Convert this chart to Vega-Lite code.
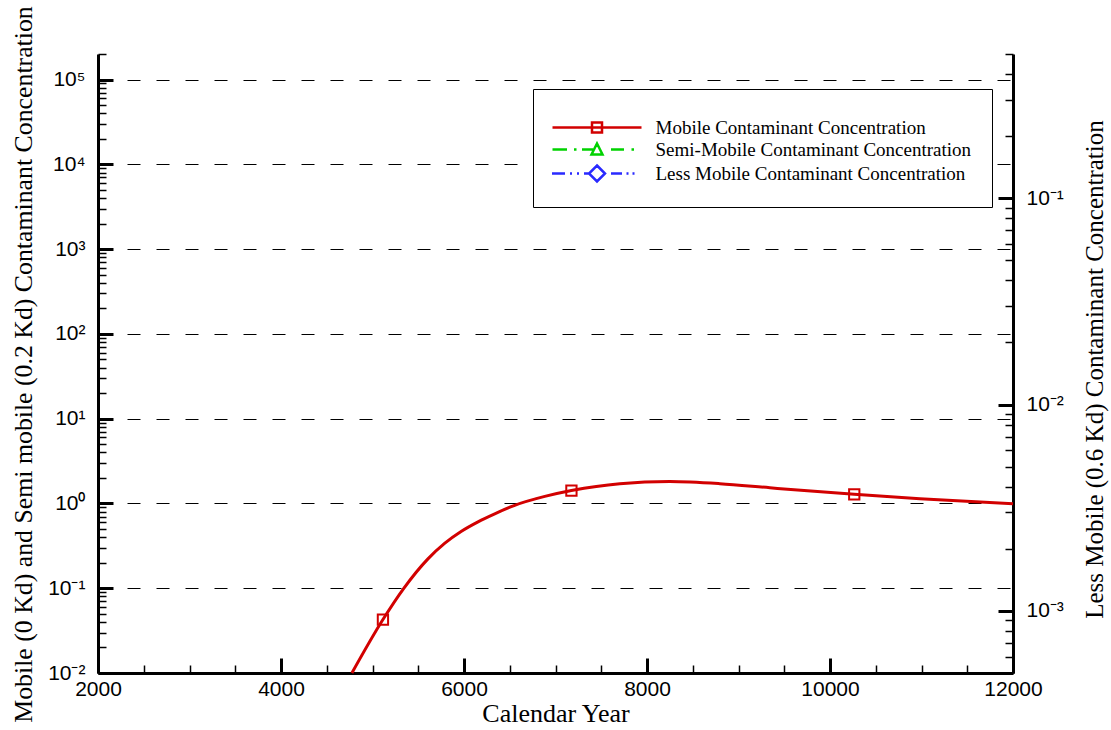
{
  "$schema": "https://vega.github.io/schema/vega-lite/v6.json",
  "width": 915,
  "height": 619,
  "autosize": "none",
  "padding": {"left": 98, "top": 54, "right": 98, "bottom": 57},
  "background": "white",
  "config": {
    "view": {"stroke": null},
    "axis": {
      "domainColor": "#000",
      "domainWidth": 3,
      "tickColor": "#000",
      "labelColor": "#000",
      "titleColor": "#000",
      "labelFont": "Liberation Sans",
      "labelFontSize": 21,
      "titleFont": "Liberation Serif",
      "titleFontSize": 25,
      "titleFontWeight": "normal",
      "labelOverlap": false,
      "labelBound": false,
      "labelFlush": false
    }
  },
  "datasets": {
    "mobile": [
      {"year": 4775, "conc": 0.0100, "series": "Mobile Contaminant Concentration"},
      {"year": 5114, "conc": 0.0427, "series": "Mobile Contaminant Concentration"},
      {"year": 5340, "conc": 0.099, "series": "Mobile Contaminant Concentration"},
      {"year": 5606, "conc": 0.222, "series": "Mobile Contaminant Concentration"},
      {"year": 5791, "conc": 0.340, "series": "Mobile Contaminant Concentration"},
      {"year": 5972, "conc": 0.47, "series": "Mobile Contaminant Concentration"},
      {"year": 6153, "conc": 0.607, "series": "Mobile Contaminant Concentration"},
      {"year": 6336, "conc": 0.755, "series": "Mobile Contaminant Concentration"},
      {"year": 6554, "conc": 0.95, "series": "Mobile Contaminant Concentration"},
      {"year": 6883, "conc": 1.21, "series": "Mobile Contaminant Concentration"},
      {"year": 7174, "conc": 1.42, "series": "Mobile Contaminant Concentration"},
      {"year": 7703, "conc": 1.71, "series": "Mobile Contaminant Concentration"},
      {"year": 8249, "conc": 1.81, "series": "Mobile Contaminant Concentration"},
      {"year": 8796, "conc": 1.71, "series": "Mobile Contaminant Concentration"},
      {"year": 9343, "conc": 1.53, "series": "Mobile Contaminant Concentration"},
      {"year": 10265, "conc": 1.28, "series": "Mobile Contaminant Concentration"},
      {"year": 10983, "conc": 1.135, "series": "Mobile Contaminant Concentration"},
      {"year": 12000, "conc": 0.99, "series": "Mobile Contaminant Concentration"}
    ],
    "markers": [
      {"year": 5114, "conc": 0.0427, "series": "Mobile Contaminant Concentration"},
      {"year": 7174, "conc": 1.42, "series": "Mobile Contaminant Concentration"},
      {"year": 10265, "conc": 1.28, "series": "Mobile Contaminant Concentration"}
    ]
  },
  "encoding": {
    "x": {
      "field": "year",
      "type": "quantitative",
      "scale": {"domain": [2000, 12000], "nice": false, "zero": false},
      "axis": {
        "title": "Calendar Year",
        "titleFontSize": 26,
        "titleY": 48,
        "titleBaseline": "alphabetic",
        "format": "d",
        "values": [2000, 2500, 3000, 3500, 4000, 4500, 5000, 5500, 6000, 6500, 7000, 7500, 8000, 8500, 9000, 9500, 10000, 10500, 11000, 11500, 12000],
        "labelExpr": "datum.value % 2000 == 0 ? datum.label : ''",
        "tickSize": {"condition": {"test": "datum.value % 2000 == 0", "value": -15}, "value": -8},
        "tickWidth": {"condition": {"test": "datum.value % 2000 == 0", "value": 3}, "value": 1.5},
        "labelPadding": 20,
        "grid": false
      }
    }
  },
  "layer": [
    {
      "encoding": {
        "y": {
          "field": "conc",
          "type": "quantitative",
          "scale": {"type": "log", "domain": [0.01, 200000], "nice": false},
          "axis": {
            "orient": "left",
            "title": "Mobile (0 Kd) and Semi mobile (0.2 Kd) Contaminant Concentration",
            "titleFontSize": 25.8,
            "titleAngle": 270,
            "titleX": -67,
            "titleY": 310,
            "titleAlign": "center",
            "titleBaseline": "alphabetic",
            "values": [0.01, 0.02, 0.03, 0.04, 0.05, 0.06, 0.07, 0.08, 0.09, 0.1, 0.2, 0.3, 0.4, 0.5, 0.6, 0.7, 0.8, 0.9, 1, 2, 3, 4, 5, 6, 7, 8, 9, 10, 20, 30, 40, 50, 60, 70, 80, 90, 100, 200, 300, 400, 500, 600, 700, 800, 900, 1000, 2000, 3000, 4000, 5000, 6000, 7000, 8000, 9000, 10000, 20000, 30000, 40000, 50000, 60000, 70000, 80000, 90000, 100000, 200000],
            "labelExpr": "abs(log(datum.value)/LN10 - round(log(datum.value)/LN10)) < 1e-6 ? ['10⁻³','10⁻²','10⁻¹','10⁰','10¹','10²','10³','10⁴','10⁵'][round(log(datum.value)/LN10)+3] : ''",
            "tickSize": {"condition": {"test": "abs(log(datum.value)/LN10 - round(log(datum.value)/LN10)) < 1e-6", "value": -15}, "value": -8},
            "tickWidth": {"condition": {"test": "abs(log(datum.value)/LN10 - round(log(datum.value)/LN10)) < 1e-6", "value": 3}, "value": 1.5},
            "labelPadding": 28,
            "grid": true,
            "gridColor": "#000",
            "gridWidth": 1,
            "gridDash": [13, 16],
            "gridOpacity": {"condition": {"test": "abs(log(datum.value)/LN10 - round(log(datum.value)/LN10)) < 1e-6", "value": 1}, "value": 0}
          }
        }
      },
      "layer": [
        {
          "data": {"name": "mobile"},
          "mark": {"type": "line", "interpolate": "monotone", "strokeWidth": 3, "color": "#d20000"}
        },
        {
          "data": {"name": "markers"},
          "mark": {"type": "point", "shape": "square", "size": 106, "strokeWidth": 2, "filled": false, "opacity": 1, "color": "#d20000"}
        }
      ]
    },
    {
      "data": {"values": []},
      "mark": {"type": "point", "filled": false, "opacity": 1, "size": 4, "strokeWidth": 2.5},
      "encoding": {
        "y": {
          "field": "conc",
          "type": "quantitative",
          "scale": {"type": "log", "domain": [0.0005, 0.5], "nice": false},
          "axis": {
            "orient": "right",
            "title": "Less Mobile (0.6 Kd) Contaminant Concentration",
            "titleAngle": 270,
            "titleX": 89,
            "titleY": 315,
            "titleAlign": "center",
            "titleBaseline": "alphabetic",
            "values": [0.0005, 0.0006, 0.0007, 0.0008, 0.0009, 0.001, 0.002, 0.003, 0.004, 0.005, 0.006, 0.007, 0.008, 0.009, 0.01, 0.02, 0.03, 0.04, 0.05, 0.06, 0.07, 0.08, 0.09, 0.1, 0.2, 0.3, 0.4, 0.5],
            "labelExpr": "abs(log(datum.value)/LN10 - round(log(datum.value)/LN10)) < 1e-6 ? ['10⁻³','10⁻²','10⁻¹'][round(log(datum.value)/LN10)+3] : ''",
            "labelAlign": "left",
            "tickSize": {"condition": {"test": "abs(log(datum.value)/LN10 - round(log(datum.value)/LN10)) < 1e-6", "value": -15}, "value": -8},
            "tickWidth": {"condition": {"test": "abs(log(datum.value)/LN10 - round(log(datum.value)/LN10)) < 1e-6", "value": 3}, "value": 1.5},
            "labelPadding": 28,
            "grid": false
          }
        },
        "color": {
          "field": "series",
          "type": "nominal",
          "scale": {
            "domain": ["Mobile Contaminant Concentration", "Semi-Mobile Contaminant Concentration", "Less Mobile Contaminant Concentration"],
            "range": ["#d20000", "#00d200", "#2a2aff"]
          },
          "legend": {
            "title": " ",
            "orient": "none",
            "legendX": 435,
            "legendY": 35,
            "padding": 20,
            "strokeColor": "#000",
            "fillColor": "#fff",
            "labelFont": "Liberation Serif",
            "labelFontSize": 19,
            "labelColor": "#000",
            "labelLimit": 0,
            "symbolSize": 4,
            "symbolStrokeWidth": 2.5,
            "symbolOffset": 34.5,
            "labelOffset": 49,
            "rowPadding": 0,
            "titleFontSize": 4,
            "titlePadding": 5
          }
        },
        "shape": {
          "field": "series",
          "type": "nominal",
          "scale": {
            "domain": ["Mobile Contaminant Concentration", "Semi-Mobile Contaminant Concentration", "Less Mobile Contaminant Concentration"],
            "range": [
              "M-44.5,0H44.5M-5,-5H5V5H-5Z",
              "M-44.5,0H-30M-23,0H-20.5M-15,0H-4M0,-6L5.5,5H-5.5ZM14,0H27M34.5,0H37",
              "M-45,0H-32M-27,0H-25M-20,0H-18M-13,0H-8M0,-8L8,0L0,8L-8,0ZM14,0H25M29.5,0H31.5M35.5,0H37.5"
            ]
          },
          "legend": {
            "title": " ",
            "orient": "none",
            "legendX": 435,
            "legendY": 35,
            "padding": 20,
            "strokeColor": "#000",
            "fillColor": "#fff",
            "labelFont": "Liberation Serif",
            "labelFontSize": 19,
            "labelColor": "#000",
            "labelLimit": 0,
            "symbolSize": 4,
            "symbolStrokeWidth": 2.5,
            "symbolOffset": 34.5,
            "labelOffset": 49,
            "rowPadding": 0,
            "titleFontSize": 4,
            "titlePadding": 5
          }
        }
      }
    }
  ],
  "resolve": {"scale": {"y": "independent"}}
}
